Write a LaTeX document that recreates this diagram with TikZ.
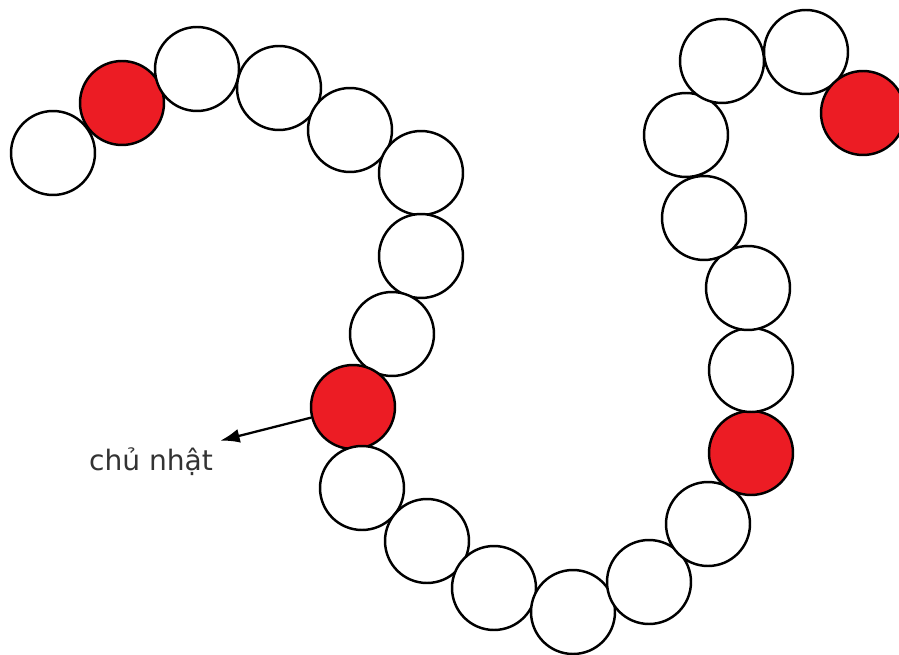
\documentclass[tikz,border=0pt]{standalone}
\usepackage{fontspec}
\setmainfont{DejaVu Sans}
\usetikzlibrary{arrows.meta}
\definecolor{beadred}{RGB}{236,28,36}
\tikzset{
    bead/.style={circle,draw=black,line width=1.4pt,minimum size=1.68cm,inner sep=0pt},
}
\begin{document}
\begin{tikzpicture}[x=0.02cm,y=-0.02cm]
        \useasboundingbox (0,0) rectangle (899,655);
        % the string of beads, one after another
        \foreach \px/\py/\col [count=\i] in {53/153/white, 122/103/beadred, 197/69/white, 279/88/white,
            350/130/white, 421/173/white, 421/256/white, 392/334/white, 353/407/beadred,
            362/488/white, 427/541/white, 494/588/white, 573/612/white, 649/582/white,
            708/524/white, 751/453/beadred, 751/370/white, 748/288/white, 704/218/white,
            686/135/white, 722/61/white, 806/52/white, 863/113/beadred}
            \node[bead,fill=\col] (c\i) at (\px,\py) {};
        \node[font=\fontsize{16}{18}\selectfont,text=black!80,inner sep=4pt] (lbl) at (151,462) {chủ nhật};
        \draw[line width=1.3pt,-{Latex[length=11pt,width=8pt]}] (c9) -- (lbl.north east);
    \end{tikzpicture}
\end{document}
